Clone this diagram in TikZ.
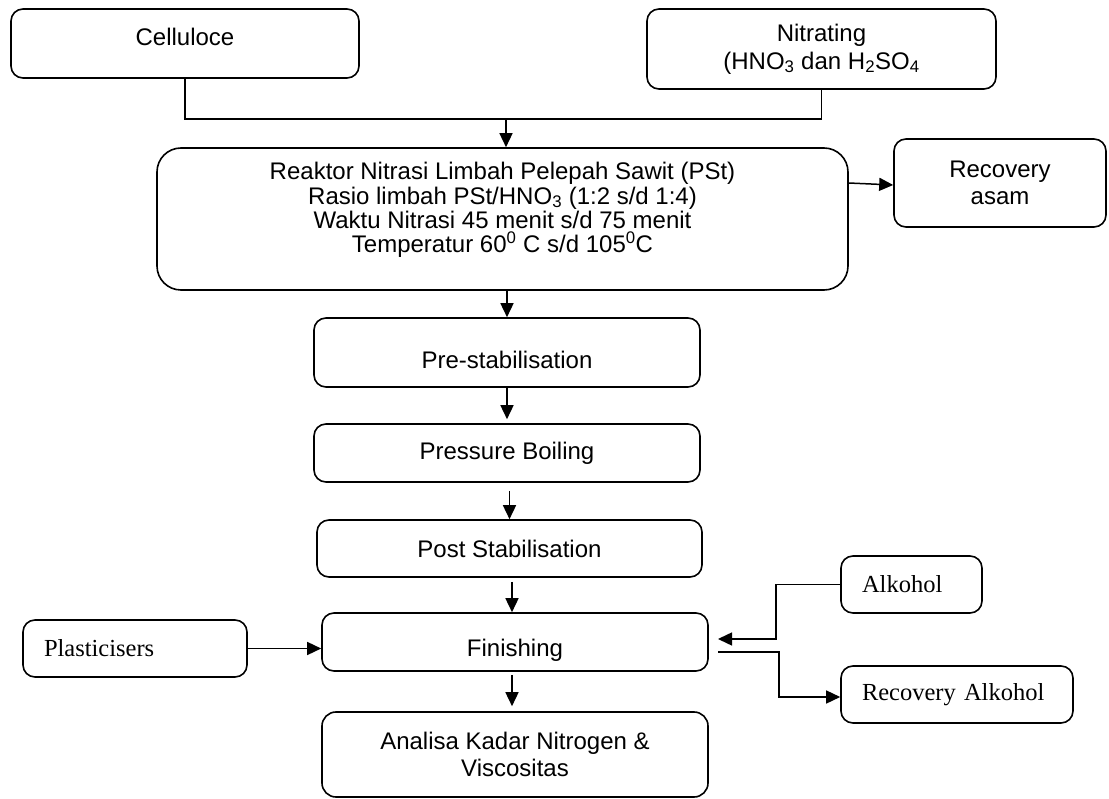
\documentclass[tikz,border=0pt]{standalone}
\usepackage{fontspec}
\setmainfont{Liberation Sans}
\newfontfamily\serifont{Liberation Serif}
\usetikzlibrary{arrows.meta}
\tikzset{
  box/.style={draw, rounded corners=12pt, line width=1.6pt, align=center, inner sep=0pt},
  sbox/.style={box, align=left, inner xsep=21pt, font=\serifont\fontsize{24.5}{27.6}\selectfont},
  conn/.style={line width=1.5pt},
  arr/.style={conn, -{Triangle[length=14pt,width=13pt]}},
}
\begin{document}
\begin{tikzpicture}[x=1pt, y=-1pt, font=\fontsize{24}{27.6}\selectfont]
\useasboundingbox (0,0) rectangle (1109,799);
% boxes
\node[box, minimum width=348pt, minimum height=69pt] (cel) at (185,43.5) {Celluloce\rule[-13pt]{0pt}{13pt}};
\node[box, minimum width=349pt, minimum height=80pt] (nit) at (821.5,49) {Nitrating\\(HNO\textsubscript{3} dan H\textsubscript{2}SO\textsubscript{4}};
\node[box, rounded corners=24pt, minimum width=691pt, minimum height=142pt, font={\fontsize{24}{24.3}\selectfont\lineskiplimit=-30pt}] (reac) at (502.5,219)
  {Reaktor Nitrasi Limbah Pelepah Sawit (PSt)\\Rasio limbah PSt/HNO\textsubscript{3} (1:2 s/d 1:4)\\Waktu Nitrasi 45 menit s/d 75 menit\\Temperatur 60\textsuperscript{0} C s/d 105\textsuperscript{0}C\rule[-23pt]{0pt}{23pt}};
\node[box, minimum width=212pt, minimum height=88pt] (rec) at (1000,183) {Recovery\\asam};
\node[box, minimum width=386pt, minimum height=69pt] (pre) at (507,352.5) {Pre-stabilisation\rule{0pt}{32.5pt}};
\node[box, minimum width=386pt, minimum height=58pt] (pb) at (507,453) {Pressure Boiling};
\node[box, minimum width=385pt, minimum height=57pt] (post) at (509.5,548.5) {Post Stabilisation};
\node[box, minimum width=386pt, minimum height=58pt] (fin) at (515,642) {Finishing\rule{0pt}{34pt}};
\node[box, rounded corners=14pt, minimum width=386pt, minimum height=85pt] (ana) at (515,754.5) {Analisa Kadar Nitrogen \&\\Viscositas};
\node[sbox, text width=182pt, minimum height=57pt] (pla) at (135,648.5) {Plasticisers};
\node[sbox, text width=99pt, minimum height=57pt] (alk) at (911.5,584.5) {Alkohol};
\node[sbox, text width=190pt, minimum height=57pt] (ralk) at (957,694.5) {Recovery Alkohol};
% connectors
\coordinate (bus) at (506,119);
\draw[conn] (cel.south) |- (bus) -| (nit.south);
\draw[arr] (bus) -- (bus |- reac.north);
\draw[arr] ([yshift=36pt]reac.east) -- ([yshift=-2pt]rec.west);
\draw[arr] (reac.south -| pre.north) -- (pre.north);
\draw[arr, shorten >=4pt] (pre.south) -- (pb.north);
\draw[arr, shorten <=8pt] (pb.south -| post.north) -- (post.north);
\draw[arr, shorten <=4pt] ([xshift=2.5pt]post.south) -- ([xshift=2.5pt]post.south |- fin.north);
\draw[arr, shorten <=3pt, shorten >=5pt] ([xshift=-3pt]fin.south) -- ([xshift=-3pt]ana.north);
\draw[arr] (pla.east) -- (pla.east -| fin.west);
\coordinate (a1) at (776,639);
\coordinate (a2) at (718,639);
\draw[arr] (alk.west) -| (a1) -- (a2);
\coordinate (r0) at (718,652);
\coordinate (r1) at (779,697);
\draw[arr] (r0) -| (r1) -- (r1 -| ralk.west);
\end{tikzpicture}
\end{document}
